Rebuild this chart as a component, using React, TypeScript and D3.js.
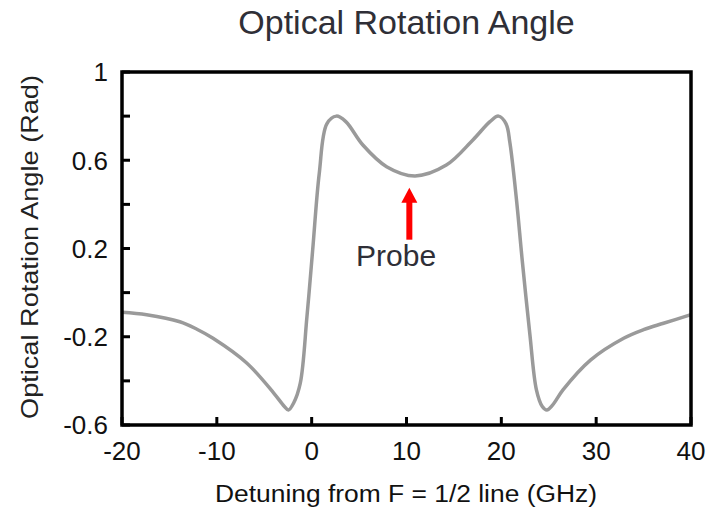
import React from "react";
import * as d3 from "d3";

// Detuning (GHz) and optical rotation angle (rad) sampled along the curve
const detuning = [
  -20, -17.4, -13.9, -12.1, -10.4, -6.85, -4.0, -2.9, -2.45, -1.9, -1.2, -0.5, 0.1, 0.8,
  1.6, 2.6, 3.6, 5.4, 7.9, 10.9, 14.2, 17.0, 18.8, 19.7, 20.5, 20.9, 21.6, 22.2, 23.0,
  23.7, 24.3, 24.8, 25.4, 26.5, 29.4, 32.9, 35.0, 37.1, 40,
];
const rotation = [
  -0.089, -0.1, -0.132, -0.166, -0.207, -0.319, -0.455, -0.515, -0.532, -0.5, -0.41,
  -0.11, 0.19, 0.54, 0.765, 0.8, 0.775, 0.669, 0.571, 0.529, 0.578, 0.692, 0.775, 0.8,
  0.765, 0.68, 0.42, 0.148, -0.185, -0.441, -0.515, -0.532, -0.51, -0.441, -0.306,
  -0.207, -0.168, -0.139, -0.1,
];

const xTicks = [-20, -10, 0, 10, 20, 30, 40];
const yTickLabels = [1, 0.6, 0.2, -0.2, -0.6];
const yTicksAll = [1, 0.8, 0.6, 0.4, 0.2, 0, -0.2, -0.4, -0.6];

// Probe marker: detuning position and arrow extent in rad
const probeX = 10.3;
const probeArrow = [0.24, 0.475];
const probeLabelX = 8.9;
const probeLabelY = 0.12;

const W = 711;
const H = 512;
const margin = { left: 122, top: 72, right: 20, bottom: 87 };

export default function App() {
  const x = d3.scaleLinear().domain([-20, 40]).range([margin.left, W - margin.right]);
  const y = d3.scaleLinear().domain([-0.6, 1]).range([H - margin.bottom, margin.top]);

  const pts: [number, number][] = detuning.map((d, i) => [d, rotation[i]]);
  const line = d3
    .line<[number, number]>()
    .x((d) => x(d[0]))
    .y((d) => y(d[1]))
    .curve(d3.curveCatmullRom.alpha(0.5));

  const x0 = x(-20);
  const x1 = x(40);
  const y0 = y(-0.6);
  const y1 = y(1);
  const tickLen = 8;
  const font = "'Liberation Sans', Arial, sans-serif";

  const ax = x(probeX);
  const tipY = y(probeArrow[1]);
  const baseY = y(probeArrow[0]);
  const headLen = 15;
  const headW = 8;

  return (
    <svg
      width={W}
      height={H}
      style={{ position: "absolute", left: 0, top: 0, background: "#fff" }}
      fontFamily={font}
    >
      <rect width={W} height={H} fill="#fff" />
      <text x={(x0 + x1) / 2} y={34} textAnchor="middle" fontSize={34} fill="#2f2f37">
        Optical Rotation Angle
      </text>

      <path d={line(pts) ?? ""} fill="none" stroke="#9a9a9a" strokeWidth={3.5} strokeLinejoin="round" />

      {/* y ticks (inward) */}
      {yTicksAll.map((t) => (
        <line key={"yt" + t} x1={x0} x2={x0 + tickLen} y1={y(t)} y2={y(t)} stroke="#000" strokeWidth={3} />
      ))}
      {/* x ticks (inward) */}
      {xTicks.map((t) => (
        <line key={"xt" + t} x1={x(t)} x2={x(t)} y1={y0} y2={y0 - tickLen} stroke="#000" strokeWidth={3} />
      ))}

      <rect x={x0} y={y1} width={x1 - x0} height={y0 - y1} fill="none" stroke="#000" strokeWidth={3.5} />

      {yTickLabels.map((t) => (
        <text key={"yl" + t} x={108} y={y(t)} dy="0.36em" textAnchor="end" fontSize={26} fill="#111">
          {String(t)}
        </text>
      ))}
      {xTicks.map((t) => (
        <text key={"xl" + t} x={x(t)} y={460} textAnchor="middle" fontSize={26} fill="#111">
          {String(t)}
        </text>
      ))}

      <text
        x={406}
        y={502}
        textAnchor="middle"
        fontSize={23}
        textLength={382}
        lengthAdjust="spacingAndGlyphs"
        fill="#111"
      >
        Detuning from F = 1/2 line (GHz)
      </text>
      <text
        transform={`translate(38, 247) rotate(-90)`}
        textAnchor="middle"
        fontSize={24}
        textLength={344}
        lengthAdjust="spacingAndGlyphs"
        fill="#222"
      >
        Optical Rotation Angle (Rad)
      </text>

      {/* probe arrow */}
      <line x1={ax} x2={ax} y1={baseY} y2={tipY + headLen - 1} stroke="#ff0000" strokeWidth={6} />
      <path
        d={`M${ax},${tipY} L${ax - headW},${tipY + headLen} L${ax + headW},${tipY + headLen} Z`}
        fill="#ff0000"
      />
      <text x={x(probeLabelX)} y={y(probeLabelY)} textAnchor="middle" fontSize={30} fill="#2f2f37">
        Probe
      </text>
    </svg>
  );
}
